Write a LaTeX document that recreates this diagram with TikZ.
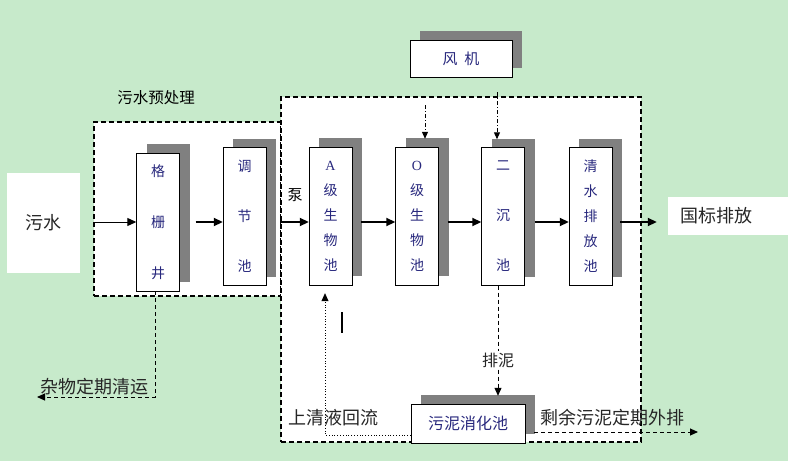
\documentclass[tikz,border=0pt]{standalone}
\usepackage{fontspec}
\setmainfont{Noto Sans CJK SC}
\newfontfamily\latinserif{Liberation Serif}
\definecolor{bggreen}{RGB}{199, 234, 203}
\definecolor{tanknavy}{RGB}{40, 40, 125}
\definecolor{shadowgray}{RGB}{128, 128, 128}
\usetikzlibrary{arrows.meta, positioning, calc, shadows}

\begin{document}
\begin{tikzpicture}[x=1pt, y=-1pt,
  region/.style={draw, fill=white, dash pattern=on 5pt off 3pt, line width=1.5pt, inner sep=0pt},
  tank/.style={draw, fill=white, minimum width=43pt, minimum height=138pt, inner sep=0pt, align=center, text=tanknavy,
    drop shadow={shadow xshift=10pt, shadow yshift=9pt, fill=shadowgray, opacity=1}},
  endbox/.style={fill=white, inner sep=0pt},
  flow/.style={-{Triangle[length=9pt, width=8pt]}, line width=1.8pt},
  air/.style={-{Triangle[length=7pt, width=6pt]}, line width=1pt, dash pattern=on 4pt off 2pt on 1pt off 2pt},
  dashflow/.style={-{Triangle[length=8pt, width=7pt]}, line width=1pt, dash pattern=on 4pt off 3pt},
  label/.style={font=\fontsize{18}{20}\selectfont, text=black!85}
]
  \useasboundingbox (0,0) rectangle (788,461);
  \fill[bggreen] (0,0) rectangle (788,461);

  % Treatment regions
  \node[region, minimum width=187pt, minimum height=174pt] (pre) at (187.5, 209) {};
  \node[region, minimum width=360pt, minimum height=345pt] (main) at (461, 269.5) {};
  \node[font=\fontsize{15.5}{17}\selectfont] at (156, 98) {污水预处理};

  % Inlet and outlet
  \node[endbox, minimum width=73pt, minimum height=100pt, label] (sewage) at (43.5, 223) {污水};
  \node[endbox, minimum width=120pt, minimum height=38pt, text width=96pt, inner xsep=12pt, align=left, label] (nat) at (728, 216) {国标排放};

  % Tanks
  \node[tank, font=\fontsize{14}{51}\selectfont] (grille) at (158, 222) {格\\栅\\井};
  \node[tank, font=\fontsize{14}{50}\selectfont] (adjust) at (244.5, 216.5) {调\\节\\池};
  \node[tank, font=\fontsize{14}{25}\selectfont] (aTank) at (330.5, 216) {{\latinserif A}\\级\\生\\物\\池};
  \node[tank, font=\fontsize{14}{25}\selectfont] (oTank) at (417, 216) {{\latinserif O}\\级\\生\\物\\池};
  \node[tank, font=\fontsize{14}{50}\selectfont] (settle) at (503, 216.5) {二\\沉\\池};
  \node[tank, font=\fontsize{14}{25}\selectfont] (clear) at (590.5, 216.5) {清\\水\\排\\放\\池};

  % Blower and sludge tank
  \node[tank, minimum width=102pt, minimum height=37pt, font=\fontsize{15}{17}\selectfont] (fan) at (461, 58.5) {风\ \ 机};
  \node[tank, minimum width=114pt, minimum height=39pt, font=\fontsize{16}{18}\selectfont] (sludge) at (468, 423.5) {污泥消化池};

  % Main flow
  \draw[-{Triangle[length=9pt, width=8pt]}, line width=1pt] (pre.west |- grille) -- (grille.west);
  \draw[flow] ($(grille.east)+(16,0)$) -- (adjust.west |- grille);
  \draw[flow] (main.west |- grille) -- (aTank.west |- grille);
  \node[font=\fontsize{15}{17}\selectfont] at (295, 195) {泵};
  \draw[flow] ($(aTank.east |- grille)+(9,0)$) -- (oTank.west |- grille);
  \draw[flow] ($(oTank.east |- grille)+(9,0)$) -- (settle.west |- grille);
  \draw[flow] ($(settle.east |- grille)+(10,0)$) -- (clear.west |- grille);
  \draw[flow, shorten >=11pt] ($(clear.east |- grille)+(8,0)$) -- (nat.west |- grille);

  % Air supply
  \coordinate (airO) at (425, 105);
  \coordinate (airS) at (497, 92);
  \draw[air, shorten >=8pt] (airO) -- (airO |- oTank.north);
  \draw[air, shorten >=8pt] (airS) -- (airS |- settle.north);

  % Sludge lines
  \draw[dashflow, shorten >=8pt] ($(settle.south)+(-5,0)$) -- ($(settle.south |- sludge.north)+(-5,0)$)
    node[pos=0.63, fill=white, inner sep=2pt, font=\fontsize{16}{18}\selectfont, text=black!85] {排泥};
  \coordinate (sludgeOut) at (698, 432);
  \draw[dashflow] ($(sludge.east |- sludgeOut)+(9,0)$) -- (sludgeOut);
  \node[label] at (612, 418) {剩余污泥定期外排};
  \draw[-{Triangle[length=8pt, width=7pt]}, dotted, line width=0.8pt, shorten >=8pt]
    ($(sludge.south west)+(0,-8)$) -| ($(aTank.south)+(-5.5,0)$);
  \node[label] at (333, 418) {上清液回流};
  \draw[line width=1.5pt] (342, 312) -- (342, 333);

  % Screenings
  \coordinate (waste) at (37, 397);
  \draw[dashflow] ($(grille.south)+(-3,0)$) |- (waste);
  \node[label] at (95, 387) {杂物定期清运};
\end{tikzpicture}
\end{document}
